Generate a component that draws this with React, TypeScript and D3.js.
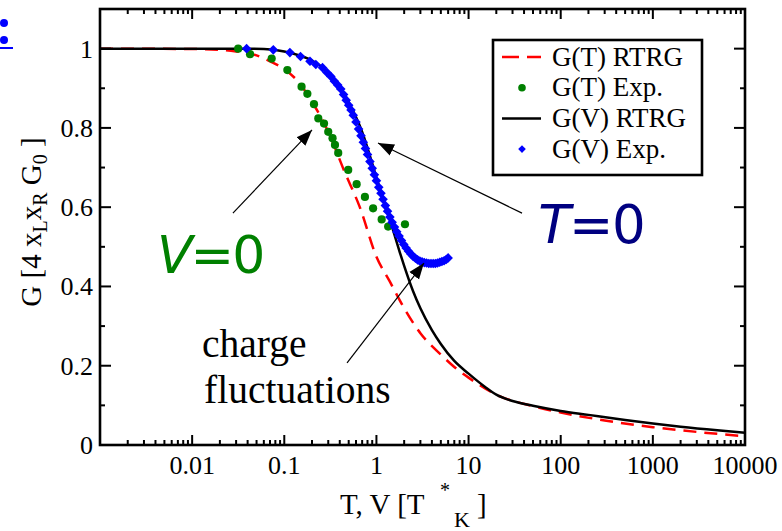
import React from 'react';
import * as d3 from 'd3';

// G(T) RTRG (red dashed)
const redCurve: [number, number][] = [
  [0.001, 1.0], [0.01, 0.999], [0.02, 0.997], [0.03, 0.993], [0.05, 0.983],
  [0.07, 0.968], [0.1, 0.948], [0.14, 0.918], [0.2, 0.866], [0.3, 0.79],
  [0.45, 0.69], [0.66, 0.6], [1.0, 0.475], [1.4, 0.412], [2, 0.345],
  [3, 0.282], [5, 0.228], [7, 0.197], [10, 0.17], [20, 0.127],
  [50, 0.098], [100, 0.082], [300, 0.062], [1000, 0.045], [3000, 0.033],
  [10000, 0.022],
];

// G(V) RTRG (black solid)
const blackCurve: [number, number][] = [
  [0.001, 1.0], [0.01, 1.0], [0.03, 1.0], [0.06, 0.999], [0.1, 0.993],
  [0.15, 0.982], [0.2, 0.97], [0.3, 0.94], [0.4, 0.905], [0.5, 0.865],
  [0.7, 0.79], [1.0, 0.675], [1.2, 0.615], [1.4, 0.568], [1.6, 0.524],
  [1.8, 0.485], [2.0, 0.452], [2.5, 0.388], [3, 0.345], [4, 0.29],
  [5, 0.255], [7, 0.212], [10, 0.18], [15, 0.147], [20, 0.127],
  [30, 0.111], [50, 0.099], [100, 0.086], [200, 0.076], [500, 0.063],
  [1000, 0.054], [2000, 0.046], [5000, 0.037], [10000, 0.031],
];

// G(T) Exp. (green dots)
const greenPoints: [number, number][] = [
  [0.0316, 1.0], [0.0425, 0.986], [0.073, 0.975], [0.108, 0.946], [0.154, 0.904],
  [0.178, 0.886], [0.21, 0.86], [0.234, 0.824], [0.27, 0.811], [0.3, 0.79],
  [0.334, 0.774], [0.355, 0.757], [0.385, 0.737], [0.494, 0.694], [0.61, 0.658],
  [0.75, 0.626], [0.92, 0.597], [1.14, 0.569], [1.34, 0.551], [2.04, 0.557],
];

// G(V) Exp. (blue diamonds)
const bluePoints: [number, number][] = [
  [0.039, 1.0], [0.076, 0.997], [0.115, 0.99], [0.15, 0.98], [0.19, 0.968],
  [0.22, 0.96], [0.26, 0.952], [0.29, 0.94], [0.32, 0.93], [0.35, 0.918],
  [0.38, 0.908], [0.41, 0.898], [0.44, 0.884], [0.47, 0.87], [0.5, 0.857],
  [0.53, 0.845], [0.56, 0.832], [0.6, 0.815], [0.64, 0.797], [0.68, 0.78],
  [0.72, 0.764], [0.76, 0.748], [0.8, 0.733], [0.85, 0.715], [0.9, 0.698],
  [0.95, 0.682], [1.0, 0.667], [1.06, 0.65], [1.12, 0.635], [1.18, 0.62],
  [1.25, 0.604], [1.32, 0.59], [1.4, 0.575], [1.48, 0.562], [1.57, 0.55],
  [1.66, 0.538], [1.76, 0.527], [1.87, 0.516], [1.98, 0.506], [2.1, 0.497],
  [2.23, 0.489], [2.36, 0.482], [2.5, 0.476], [2.65, 0.471], [2.8, 0.467],
  [2.96, 0.464], [3.13, 0.462], [3.31, 0.46], [3.5, 0.459], [3.7, 0.458],
  [3.91, 0.458], [4.13, 0.458], [4.36, 0.458], [4.6, 0.459], [4.86, 0.461],
  [5.13, 0.463], [5.42, 0.465], [5.72, 0.468], [6.0, 0.472],
];

const xTickValues = [0.01, 0.1, 1, 10, 100, 1000, 10000];
const xTickLabels = ['0.01', '0.1', '1', '10', '100', '1000', '10000'];
const yTickValues = [0, 0.2, 0.4, 0.6, 0.8, 1];
const yTickLabels = ['0', '0.2', '0.4', '0.6', '0.8', '1'];

const legendItems = ['G(T) RTRG', 'G(T) Exp.', 'G(V) RTRG', 'G(V) Exp.'];

// annotation arrows in data units: [fromX, fromY, toX, toY]
const arrows: [number, number, number, number][] = [
  [0.0277, 0.585, 0.2, 0.795],
  [38, 0.585, 1.04, 0.762],
  [0.48, 0.207, 3.28, 0.459],
];

const serif = '"Liberation Serif", "Times New Roman", serif';
const sans = '"DejaVu Sans", sans-serif';

export default function App() {
  const x = d3.scaleLog().domain([0.001, 10000]).range([100, 745]);
  const y = d3.scaleLinear().domain([0, 1.1]).range([445, 9]);
  const [x0, x1] = x.range();
  const [y0, y1] = y.range();

  const line = d3.line<[number, number]>()
    .x(d => x(d[0]))
    .y(d => y(d[1]))
    .curve(d3.curveMonotoneX);

  const allXTicks = x.ticks();
  const isMajor = (v: number) => Math.abs(Math.log10(v) - Math.round(Math.log10(v))) < 1e-6;
  const yMinor = d3.range(0.1, 1.1, 0.2);

  const diamond = (cx: number, cy: number, r: number) =>
    `M${cx},${cy - r}L${cx + r},${cy}L${cx},${cy + r}L${cx - r},${cy}Z`;

  const lgX = 493, lgY = 40, lgW = 209, lgH = 135, rowH = 30.7;

  return (
    <svg width={782} height={531} style={{ position: 'absolute', left: 0, top: 0, background: '#fff' }}>
      <defs>
        <marker id="ah" viewBox="0 0 10 10" refX="10" refY="5" markerWidth="16" markerHeight="16"
          markerUnits="userSpaceOnUse" orient="auto">
          <path d="M0,1.2L10,5L0,8.8Z" fill="#000" />
        </marker>
      </defs>

      {/* stray link marks at top-left */}
      <circle cx={4} cy={23} r={4} fill="#0000ff" />
      <circle cx={4} cy={40} r={4} fill="#0000ff" />
      <line x1={0} x2={13} y1={48} y2={48} stroke="#0000ff" strokeWidth={2} />

      {/* curves */}
      <path d={line(redCurve) || ''} fill="none" stroke="#ff0000" strokeWidth={2.5} strokeDasharray="13,8" />
      <path d={line(blackCurve) || ''} fill="none" stroke="#000" strokeWidth={2.5} />
      {greenPoints.map((d, i) => (
        <circle key={'g' + i} cx={x(d[0])} cy={y(d[1])} r={4.1} fill="#008000" />
      ))}
      {bluePoints.map((d, i) => (
        <path key={'b' + i} d={diamond(x(d[0]), y(d[1]), 4.8)} fill="#0000ff" />
      ))}

      {/* ticks */}
      {allXTicks.map((v, i) => {
        const len = isMajor(v) ? 10 : 5;
        return (
          <g key={'xt' + i} stroke="#000" strokeWidth={2}>
            <line x1={x(v)} x2={x(v)} y1={y0} y2={y0 - len} />
            <line x1={x(v)} x2={x(v)} y1={y1} y2={y1 + len} />
          </g>
        );
      })}
      {yTickValues.map((v, i) => (
        <g key={'yt' + i} stroke="#000" strokeWidth={2}>
          <line x1={x0} x2={x0 + 11} y1={y(v)} y2={y(v)} />
          <line x1={x1} x2={x1 - 11} y1={y(v)} y2={y(v)} />
        </g>
      ))}
      {yMinor.map((v, i) => (
        <g key={'ym' + i} stroke="#000" strokeWidth={2}>
          <line x1={x0} x2={x0 + 5} y1={y(v)} y2={y(v)} />
          <line x1={x1} x2={x1 - 5} y1={y(v)} y2={y(v)} />
        </g>
      ))}

      {/* frame */}
      <rect x={x0} y={y1} width={x1 - x0} height={y0 - y1} fill="none" stroke="#000" strokeWidth={2.6} />

      {/* tick labels */}
      {xTickValues.map((v, i) => (
        <text key={'xl' + i} x={x(v)} y={474} textAnchor="middle" fontFamily={serif} fontSize={26}>
          {xTickLabels[i]}
        </text>
      ))}
      {yTickValues.map((v, i) => (
        <text key={'yl' + i} x={93} y={y(v) + 9} textAnchor="end" fontFamily={serif} fontSize={26}>
          {yTickLabels[i]}
        </text>
      ))}

      {/* axis titles */}
      <text x={340} y={514} fontFamily={serif} fontSize={29}>T, V [T</text>
      <text x={440} y={497} fontFamily={serif} fontSize={20}>*</text>
      <text x={454} y={527} fontFamily={serif} fontSize={22}>K</text>
      <text x={477} y={514} fontFamily={serif} fontSize={29}>]</text>
      <text transform="translate(41,222) rotate(-90)" textAnchor="middle" fontFamily={serif} fontSize={29}>
        G [4 x<tspan dy={6} fontSize={20}>L</tspan>
        <tspan dy={-6}>x</tspan>
        <tspan dy={6} fontSize={20}>R</tspan>
        <tspan dy={-6}> G</tspan>
        <tspan dy={6} fontSize={20}>0</tspan>
        <tspan dy={-6}> ]</tspan>
      </text>

      {/* legend */}
      <rect x={lgX} y={lgY} width={lgW} height={lgH} fill="#fff" stroke="#000" strokeWidth={2.6} />
      {legendItems.map((t, i) => {
        const cy = lgY + 17 + i * rowH;
        return (
          <g key={'lg' + i}>
            {i === 0 && (
              <line x1={502} x2={541} y1={cy} y2={cy} stroke="#ff0000" strokeWidth={2.5} strokeDasharray="17,8" />
            )}
            {i === 1 && <circle cx={522} cy={cy} r={3.8} fill="#008000" />}
            {i === 2 && <line x1={502} x2={541} y1={cy} y2={cy} stroke="#000" strokeWidth={2.5} />}
            {i === 3 && <path d={diamond(522, cy, 3.8)} fill="#0000ff" />}
            <text x={552} y={cy + 8.5} fontFamily={serif} fontSize={27}>{t}</text>
          </g>
        );
      })}

      {/* annotations */}
      {arrows.map((a, i) => (
        <line key={'ar' + i} x1={x(a[0])} y1={y(a[1])} x2={x(a[2])} y2={y(a[3])}
          stroke="#000" strokeWidth={1.2} markerEnd="url(#ah)" />
      ))}
      <text x={x(0.00416)} y={y(0.434)} fontFamily={sans} fontSize={52} letterSpacing={-2} fill="#008000">
        <tspan fontStyle="italic">V</tspan>=0
      </text>
      <text x={x(57)} y={y(0.51)} fontFamily={sans} fontSize={53} letterSpacing={-1.5} fill="#000080">
        <tspan fontStyle="italic">T</tspan>=0
      </text>
      <text x={x(0.0128)} y={y(0.222)} fontFamily={serif} fontSize={39.5}>charge</text>
      <text x={x(0.01346)} y={y(0.106)} fontFamily={serif} fontSize={39.5}>fluctuations</text>
    </svg>
  );
}
